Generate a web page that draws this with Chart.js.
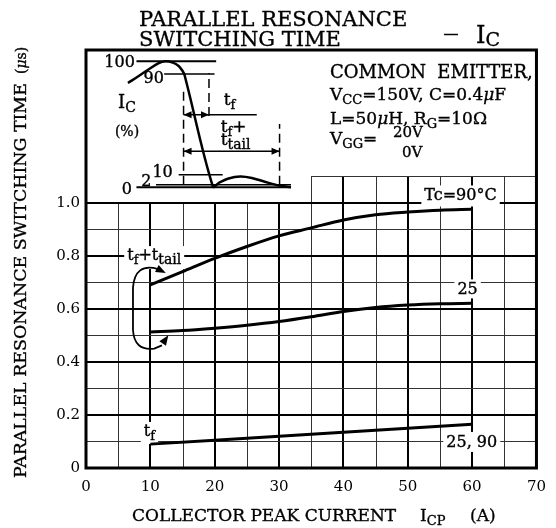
<!DOCTYPE html>
<html>
<head>
<meta charset="utf-8">
<script src="https://cdn.jsdelivr.net/npm/chart.js@4.4.0/dist/chart.umd.min.js"></script>
<style>
  html, body { margin: 0; padding: 0; background: #fff; }
  #wrap { width: 556px; height: 528px; }
</style>
</head>
<body>
<div id="wrap"><canvas id="chart" width="556" height="528"></canvas></div>
<script>
// axis ticks
const currentTicks = [0, 10, 20, 30, 40, 50, 60, 70];
const timeTicks = [0, 0.2, 0.4, 0.6, 0.8, 1.0];
const timeTickLabels = ['0', '0.2', '0.4', '0.6', '0.8', '1.0'];

// curves (us vs A)
const icp = [10, 15, 20, 25, 30, 35, 40, 45, 50, 55, 60];
const tfTail90 = [0.69, 0.74, 0.79, 0.835, 0.875, 0.905, 0.935, 0.955, 0.965, 0.972, 0.975];
const tfTail25 = [0.513, 0.518, 0.527, 0.538, 0.552, 0.57, 0.59, 0.605, 0.614, 0.619, 0.621];
const icpTf = [10, 20, 30, 40, 50, 60];
const tfBoth = [0.09, 0.105, 0.12, 0.135, 0.15, 0.165];

// inset waveform (time units, Ic %)
const waveT = [0, 6.6, 12.6, 18.6, 22.8, 27.5, 31.1, 33.5, 34.7, 52.1, 55.7, 61.7, 68.9, 76, 84.4, 92.8, 100];
const wavePct = [82.8, 88.3, 93.5, 98.3, 100, 99, 96.3, 92.3, 89.1, 0.6, 3.4, 7, 8.6, 7.4, 4.2, 1.4, 0];
const insetLevels = [100, 90, 10, 2, 0];
const insetLevelFrom = [5.2, 22.2, 31.1, 17.2, 5.2];
const insetLevelTo = [54.1, 53.1, 58.1, 100, 100];
const insetMarkT = [34.1, 49.7, 93];
const insetMarkFrom = [2, 56.6, 2];
const insetMarkTo = [76.3, 90.7, 50.2];
const insetArrowPct = [57.6, 28.6];
const insetArrowFrom = [34.1, 34.1];
const insetArrowHead = [49.7, 93];
const insetArrowTo = [79, 93];

const SERIF = '"DejaVu Serif", "Liberation Serif", serif';

function xy(xs, ys) { return xs.map((v, i) => ({ x: v, y: ys[i] })); }

const datasets = [
  { data: xy(icp, tfTail90) },
  { data: xy(icp, tfTail25) },
  { data: xy(icpTf, tfBoth) }
].map(d => Object.assign(d, {
  borderColor: '#000', borderWidth: 3, pointRadius: 0,
  cubicInterpolationMode: 'monotone', xAxisID: 'x', yAxisID: 'y'
}));

const insetBase = { borderColor: '#000', pointRadius: 0, xAxisID: 'xi', yAxisID: 'yi' };
datasets.push(Object.assign({ data: xy(waveT, wavePct), borderWidth: 2.5, tension: 0.35 }, insetBase));
insetLevels.forEach((p, i) => {
  datasets.push(Object.assign({ data: [{ x: insetLevelFrom[i], y: p }, { x: insetLevelTo[i], y: p }],
    borderWidth: (p === 0 || p === 100) ? 2 : 1.5 }, insetBase));
});
insetMarkT.forEach((t, i) => {
  datasets.push(Object.assign({ data: [{ x: t, y: insetMarkFrom[i] }, { x: t, y: insetMarkTo[i] }],
    borderWidth: 1.5, borderDash: [9, 5] }, insetBase));
});
insetArrowPct.forEach((p, i) => {
  datasets.push(Object.assign({ data: [{ x: insetArrowFrom[i], y: p }, { x: insetArrowTo[i], y: p }],
    borderWidth: 1.5 }, insetBase));
});

function rich(ctx, parts, x, y, align, bg) {
  let w = 0;
  parts.forEach(p => {
    ctx.font = (p.it ? 'italic ' : '') + p.s + 'px ' + SERIF;
    p.w = ctx.measureText(p.t).width;
    w += p.w;
  });
  let sx = align === 'center' ? x - w / 2 : align === 'right' ? x - w : x;
  if (bg) {
    ctx.fillStyle = '#fff';
    ctx.fillRect(sx - 3, y - bg[0], w + 6, bg[0] + bg[1]);
  }
  ctx.fillStyle = '#000';
  ctx.strokeStyle = '#000';
  ctx.lineWidth = 0.35;
  ctx.setLineDash([]);
  ctx.textAlign = 'left';
  ctx.textBaseline = 'alphabetic';
  parts.forEach(p => {
    ctx.font = (p.it ? 'italic ' : '') + p.s + 'px ' + SERIF;
    ctx.fillText(p.t, sx, y + (p.dy || 0));
    ctx.strokeText(p.t, sx, y + (p.dy || 0));
    sx += p.w;
  });
}

function arrowHead(ctx, fx, fy, tx, ty, len, half) {
  const a = Math.atan2(ty - fy, tx - fx);
  ctx.beginPath();
  ctx.moveTo(tx, ty);
  ctx.lineTo(tx - len * Math.cos(a) + half * Math.sin(a), ty - len * Math.sin(a) - half * Math.cos(a));
  ctx.lineTo(tx - len * Math.cos(a) - half * Math.sin(a), ty - len * Math.sin(a) + half * Math.cos(a));
  ctx.closePath();
  ctx.fill();
}

const decor = {
  id: 'decor',
  beforeDatasetsDraw(chart) {
    const { ctx, scales: { x, y } } = chart;
    ctx.save();
    // grid
    for (let v = 5; v < 70; v += 5) {
      const major = v % 10 === 0;
      ctx.lineWidth = major ? 2 : 1;
      ctx.strokeStyle = major ? '#000' : '#333';
      ctx.beginPath();
      const px = Math.round(x.getPixelForValue(v)) + (major ? 0 : 0.5);
      ctx.moveTo(px, y.getPixelForValue(0));
      ctx.lineTo(px, y.getPixelForValue(v >= 35 ? 1.1 : 1.0));
      ctx.stroke();
    }
    for (let k = 1; k <= 11; k++) {
      const v = k / 10;
      const major = k % 2 === 0;
      ctx.lineWidth = major ? 2 : 1;
      ctx.strokeStyle = major ? '#000' : '#333';
      const py = Math.round(y.getPixelForValue(v)) + (major ? 0 : 0.5);
      ctx.beginPath();
      ctx.moveTo(x.getPixelForValue(k === 11 ? 35 : 0), py);
      ctx.lineTo(x.getPixelForValue(70), py);
      ctx.stroke();
    }
    // curve labels
    rich(ctx, [{ t: 'Tc', s: 16 }, { t: '=', s: 16 }, { t: '90°C', s: 16 }],
      x.getPixelForValue(58.2), y.getPixelForValue(1.031) + 6, 'center', [15, 6]);
    rich(ctx, [{ t: '25', s: 16 }], x.getPixelForValue(59.3), y.getPixelForValue(0.677) + 6, 'center', [15, 4]);
    rich(ctx, [{ t: '25, 90', s: 16 }], x.getPixelForValue(59.95), y.getPixelForValue(0.102) + 6, 'center', [15, 5]);
    rich(ctx, [{ t: 't', s: 16 }, { t: 'f', s: 13, dy: 4 }], x.getPixelForValue(9.86), y.getPixelForValue(0.136) + 4, 'center', [14, 8]);
    rich(ctx, [{ t: 't', s: 16 }, { t: 'f', s: 13, dy: 4 }, { t: '+', s: 16 }, { t: 't', s: 16 }, { t: 'tail', s: 14, dy: 4 }],
      x.getPixelForValue(10.6), y.getPixelForValue(0.795) + 3, 'center', [14, 9]);
    ctx.restore();
  },
  afterDatasetsDraw(chart) {
    const { ctx, chartArea: ca, scales: { x, y, xi, yi } } = chart;
    ctx.save();
    // frame
    ctx.strokeStyle = '#000';
    ctx.lineWidth = 3;
    ctx.strokeRect(ca.left, ca.top, ca.right - ca.left, ca.bottom - ca.top);

    // bracket arrow for tf + ttail
    const P = (a, b) => [x.getPixelForValue(a), y.getPixelForValue(b)];
    ctx.lineWidth = 1.8;
    ctx.beginPath();
    let p = P(11.2, 0.75); ctx.moveTo(p[0], p[1]);
    let c = P(7.6, 0.775), e = P(7.3, 0.68);
    ctx.quadraticCurveTo(c[0], c[1], e[0], e[1]);
    p = P(7.3, 0.52); ctx.lineTo(p[0], p[1]);
    c = P(7.5, 0.44); e = P(10.6, 0.45);
    ctx.quadraticCurveTo(c[0], c[1], e[0], e[1]);
    p = P(11.8, 0.462); ctx.lineTo(p[0], p[1]);
    ctx.stroke();
    ctx.fillStyle = '#000';
    let f = P(11.0, 0.752), t = P(12.4, 0.735);
    arrowHead(ctx, f[0], f[1], t[0], t[1], 10, 4);
    f = P(11.6, 0.458); t = P(12.8, 0.5);
    arrowHead(ctx, f[0], f[1], t[0], t[1], 10, 4);

    // inset arrowheads
    const Q = (a, b) => [xi.getPixelForValue(a), yi.getPixelForValue(b)];
    insetArrowPct.forEach((pct, i) => {
      const l = Q(insetArrowFrom[i], pct), r = Q(insetArrowHead[i], pct);
      arrowHead(ctx, l[0] + 10, l[1], l[0], l[1], 8, 3.5);
      arrowHead(ctx, r[0] - 10, r[1], r[0], r[1], 8, 3.5);
    });
    // inset labels
    let q = Q(4.2, 100); rich(ctx, [{ t: '100', s: 16 }], q[0], q[1] + 6, 'right');
    q = Q(22, 87.5); rich(ctx, [{ t: '90', s: 16 }], q[0], q[1] + 6, 'right');
    q = Q(-0.6, 66.9); rich(ctx, [{ t: 'I', s: 18 }, { t: 'C', s: 14, dy: 4 }], q[0], q[1] + 5, 'center');
    q = Q(-0.6, 44.6); rich(ctx, [{ t: '(%)', s: 14 }], q[0], q[1] + 5, 'center');
    q = Q(62.3, 68.5); rich(ctx, [{ t: 't', s: 17 }, { t: 'f', s: 13, dy: 4 }], q[0], q[1] + 4, 'center');
    q = Q(56.9, 47); rich(ctx, [{ t: 't', s: 17 }, { t: 'f', s: 13, dy: 4 }, { t: '+', s: 17 }], q[0], q[1] + 4, 'left');
    q = Q(56.9, 36.4); rich(ctx, [{ t: 't', s: 17 }, { t: 'tail', s: 14, dy: 4 }], q[0], q[1] + 4, 'left');
    q = Q(14.4, 6); rich(ctx, [{ t: '2', s: 16 }], q[0], q[1] + 6, 'right');
    q = Q(27.5, 12.7); rich(ctx, [{ t: '10', s: 16 }], q[0], q[1] + 6, 'right');
    q = Q(2.4, -0.6); rich(ctx, [{ t: '0', s: 16 }], q[0], q[1] + 6, 'right');

    // conditions block
    rich(ctx, [{ t: 'COMMON  EMITTER,', s: 18 }], 330, 78, 'left');
    rich(ctx, [{ t: 'V', s: 17 }, { t: 'CC', s: 13, dy: 4 }, { t: '=150V, C=0.4', s: 17 }, { t: 'μ', s: 17, it: true }, { t: 'F', s: 17 }], 330, 100, 'left');
    rich(ctx, [{ t: 'L=50', s: 17 }, { t: 'μ', s: 17, it: true }, { t: 'H, R', s: 17 }, { t: 'G', s: 13, dy: 4 }, { t: '=10Ω', s: 17 }], 330, 124, 'left');
    rich(ctx, [{ t: 'V', s: 17 }, { t: 'GG', s: 13, dy: 4 }, { t: '= ', s: 17 }], 330, 144, 'left');
    rich(ctx, [{ t: '20V', s: 15 }], 393, 137, 'left');
    rich(ctx, [{ t: '0V', s: 15 }], 402, 157, 'left');

    // title
    rich(ctx, [{ t: 'PARALLEL RESONANCE', s: 21 }], 139, 26, 'left');
    rich(ctx, [{ t: 'SWITCHING TIME', s: 21 }], 139, 46, 'left');
    rich(ctx, [{ t: '—', s: 15 }], 451, 38, 'center');
    rich(ctx, [{ t: 'I', s: 24 }, { t: 'C', s: 19, dy: 3 }], 476, 43, 'left');

    // x axis title
    rich(ctx, [{ t: 'COLLECTOR PEAK CURRENT', s: 17 }], 132, 521, 'left');
    rich(ctx, [{ t: 'I', s: 17 }, { t: 'CP', s: 13, dy: 4 }], 420, 521, 'left');
    rich(ctx, [{ t: '(A)', s: 17 }], 470, 521, 'left');

    // y axis title
    ctx.translate(26, 478);
    ctx.rotate(-Math.PI / 2);
    rich(ctx, [{ t: 'PARALLEL RESONANCE SWITCHING TIME', s: 17.4 }], 0, 0, 'left');
    rich(ctx, [{ t: '(', s: 14 }, { t: 'μ', s: 14, it: true }, { t: 's)', s: 14 }], 404, 0, 'left');
    ctx.restore();
  }
};

new Chart(document.getElementById('chart'), {
  type: 'line',
  data: { datasets },
  options: {
    responsive: false,
    devicePixelRatio: 1,
    animation: false,
    events: [],
    layout: { padding: { top: 50, right: 8.5, left: 0, bottom: 0 } },
    plugins: { legend: { display: false }, tooltip: { enabled: false } },
    scales: {
      x: {
        type: 'linear', min: 0, max: 70,
        afterBuildTicks: s => { s.ticks = currentTicks.map(v => ({ value: v })); },
        afterFit: s => { s.height = 60; },
        grid: { display: false, drawTicks: false },
        border: { display: false },
        ticks: { autoSkip: false, maxRotation: 0, padding: 10, color: '#000',
          font: { family: SERIF, size: 15 }, callback: v => String(v) }
      },
      y: {
        type: 'linear', min: 0, max: 1.5756,
        afterBuildTicks: s => { s.ticks = timeTicks.map(v => ({ value: v })); },
        afterFit: s => { s.width = 86; },
        grid: { display: false, drawTicks: false },
        border: { display: false },
        ticks: { padding: 6, color: '#000', font: { family: SERIF, size: 15 },
          callback: v => timeTickLabels[timeTicks.findIndex(t => Math.abs(t - v) < 1e-6)] }
      },
      xi: { type: 'linear', display: false, min: -25.75, max: 250.6 },
      yi: { type: 'linear', display: false, min: -222.8, max: 108.97 }
    }
  },
  plugins: [decor]
});
</script>
</body>
</html>
